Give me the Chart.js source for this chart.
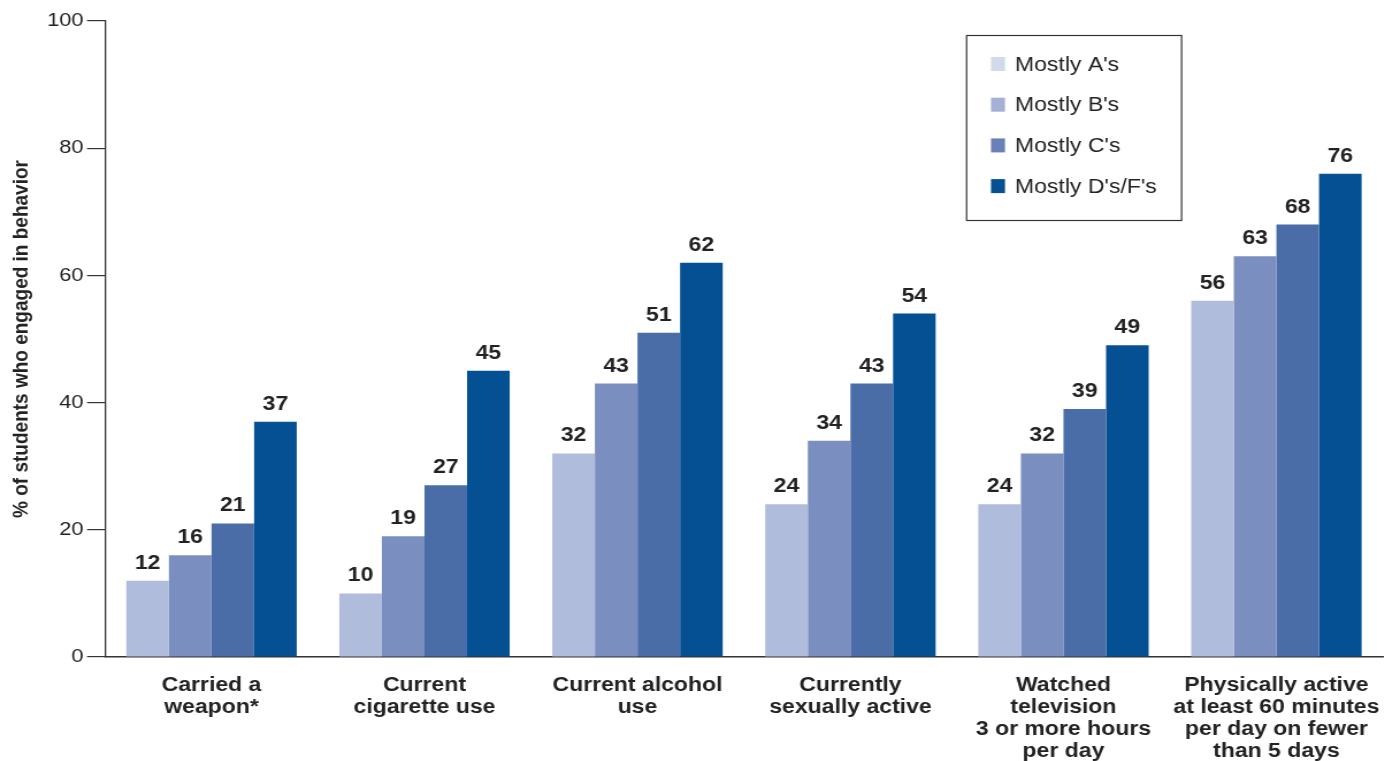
<!DOCTYPE html>
<html lang="en">
  <head>
    <meta charset="utf-8" />
    <title>Behaviors by grades</title>
    <style>
      * {
        margin: 0;
        padding: 0;
      }
      body {
        background: white;
      }
    </style>
  </head>
  <body>
    <!-- the original artwork is drawn a little wide, so the canvas is stretched sideways -->
    <canvas id="myChart" width="1217" height="761" style="width: 1400px; height: 761px"></canvas>
    <script src="https://cdn.jsdelivr.net/npm/chart.js/dist/chart.umd.min.js"></script>
    <script>
      const categories = [
        ["Carried a", "weapon*"],
        ["Current", "cigarette use"],
        ["Current alcohol", "use"],
        ["Currently", "sexually active"],
        ["Watched", "television", "3 or more hours", "per day"],
        ["Physically active", "at least 60 minutes", "per day on fewer", "than 5 days"],
      ];
      const seriesNames = ["Mostly A's", "Mostly B's", "Mostly C's", "Mostly D's/F's"];
      const mostlyA = [12, 10, 32, 24, 24, 56];
      const mostlyB = [16, 19, 43, 34, 32, 63];
      const mostlyC = [21, 27, 51, 43, 39, 68];
      const mostlyDF = [37, 45, 62, 54, 49, 76];
      const yTicks = [0, 20, 40, 60, 80, 100];

      const barColors = ["#afbcdc", "#7a8ebf", "#4a6da8", "#045092"];
      const legendColors = ["#d2d9ec", "#a4b0d6", "#6a80b9", "#045092"];
      const FONT = "'Liberation Sans', Arial, Helvetica, sans-serif";
      const SX = 1217 / 1400; // screen px -> canvas px, horizontally

      const data = {
        labels: categories,
        datasets: [mostlyA, mostlyB, mostlyC, mostlyDF].map((vals, i) => ({
          label: seriesNames[i],
          data: vals,
          backgroundColor: barColors[i],
          borderWidth: 0,
          categoryPercentage: 0.8,
          barPercentage: 1.0,
        })),
      };

      // numbers above the bars
      const valueLabels = {
        id: "valueLabels",
        afterDatasetsDraw(chart) {
          const ctx = chart.ctx;
          ctx.save();
          ctx.font = "bold 20px " + FONT;
          ctx.fillStyle = "#222";
          ctx.textAlign = "center";
          ctx.textBaseline = "alphabetic";
          chart.data.datasets.forEach((ds, i) => {
            chart.getDatasetMeta(i).data.forEach((bar, j) => {
              ctx.fillText(ds.data[j], bar.x, bar.y - 12);
            });
          });
          ctx.restore();
        },
      };

      // boxed legend inside the plot
      const boxLegend = {
        id: "boxLegend",
        afterDraw(chart) {
          const ctx = chart.ctx;
          const x0 = 966 * SX, y0 = 35, w = 215 * SX, h = 185;
          ctx.save();
          ctx.strokeStyle = "#333";
          ctx.lineWidth = 1.2;
          ctx.strokeRect(x0 + 0.5, y0 + 0.5, w, h);
          ctx.font = "20px " + FONT;
          ctx.textBaseline = "middle";
          chart.data.datasets.forEach((ds, i) => {
            const cy = y0 + 29 + i * 40.7;
            ctx.fillStyle = legendColors[i];
            ctx.fillRect(x0 + 25 * SX, cy - 7, 14 * SX, 14);
            ctx.fillStyle = "#222";
            ctx.fillText(ds.label, x0 + 49 * SX, cy + 1);
          });
          ctx.restore();
        },
      };

      const config = {
        type: "bar",
        data,
        options: {
          responsive: false,
          animation: false,
          layout: {
            padding: { top: 21, right: 13 * SX, left: 0, bottom: 0 },
          },
          plugins: {
            legend: { display: false },
            tooltip: { enabled: false },
          },
          scales: {
            x: {
              grid: {
                display: true,
                drawOnChartArea: false,
                drawTicks: false,
              },
              border: { display: true, color: "#333", width: 1.5 },
              ticks: {
                color: "#222",
                font: { family: FONT, size: 20, weight: "bold", lineHeight: "22px" },
                padding: 17,
                maxRotation: 0,
                autoSkip: false,
              },
              afterFit(scale) {
                scale.height = 104;
              },
            },
            y: {
              min: 0,
              max: 100,
              afterBuildTicks(scale) {
                scale.ticks = yTicks.map((v) => ({ value: v }));
              },
              grid: {
                display: true,
                drawOnChartArea: false,
                drawTicks: true,
                tickLength: 18 * SX,
                color: "#333",
                lineWidth: 1.2,
              },
              border: { display: true, color: "#333", width: 1.3 },
              ticks: {
                color: "#222",
                font: { family: FONT, size: 19 },
                padding: 3,
              },
              title: {
                display: true,
                text: "% of students who engaged in behavior",
                color: "#222",
                font: { family: FONT, size: 19, weight: "bold" },
                padding: { top: 7, bottom: 0 },
              },
              afterFit(scale) {
                scale.width = 105 * SX;
              },
            },
          },
        },
        plugins: [valueLabels, boxLegend],
      };

      const myChart = new Chart(document.getElementById("myChart"), config);
    </script>
  </body>
</html>
